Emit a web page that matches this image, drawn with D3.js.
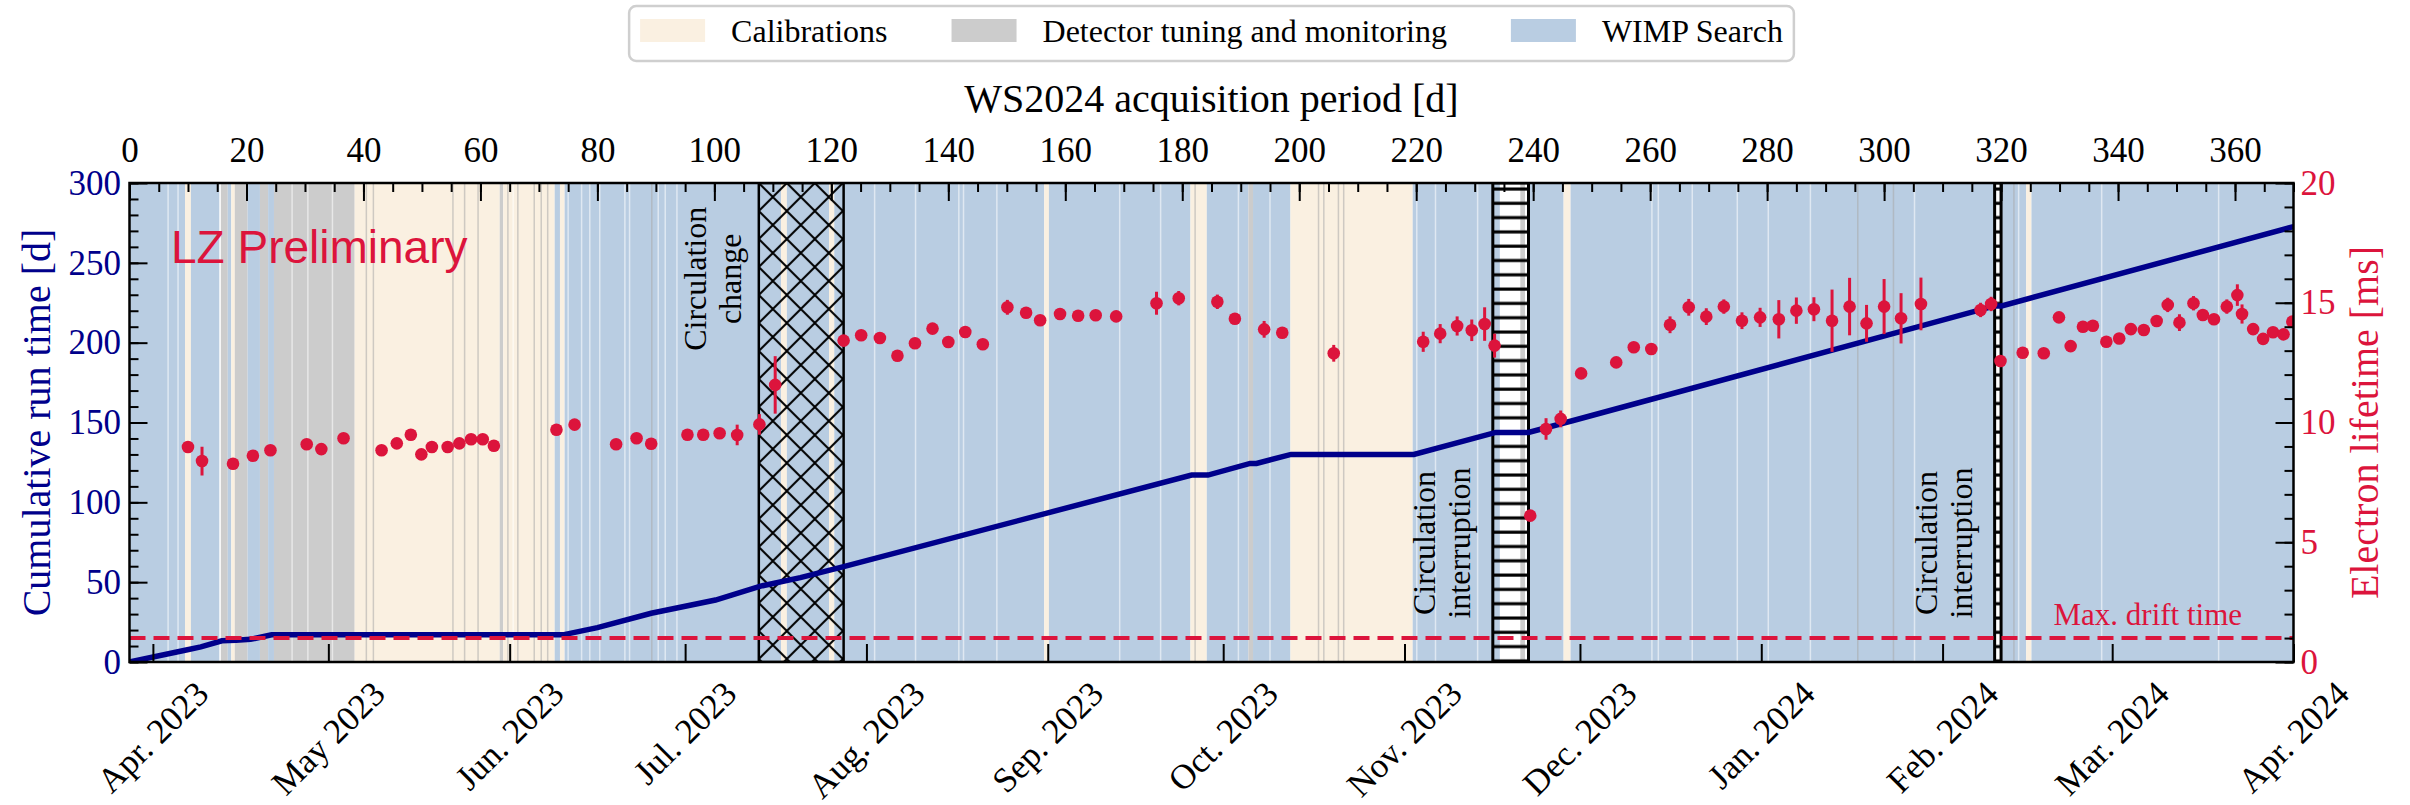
<!DOCTYPE html>
<html>
<head>
<meta charset="utf-8">
<script src="https://cdn.jsdelivr.net/npm/d3@7"></script>
<style>
	body { margin: 0; background: #fff; }
	svg { display: block; }
	text { font-family: "Liberation Serif", "Times New Roman", serif; }
</style>
</head>
<body>
<svg id="chart"></svg>
<script>

// Some global settings
var CONF = {
	width: 2410,
	height: 805,
	left: 129.5,
	right: 2293.5,
	top: 183,
	bottom: 662,
	tickFont: 35,
	monthFont: 35,
	labelFont: 40,
	navy: '#00008b',
	red: '#dc143c'
};

// acquisition period (days) and the calendar date of day 0
var periodDays = [0, 370];
var periodDates = [Date.UTC(2023, 2, 28), Date.UTC(2024, 3, 1)];

// tick labels
var topTicks = [0, 20, 40, 60, 80, 100, 120, 140, 160, 180, 200, 220, 240, 260, 280, 300, 320, 340, 360];
var leftTicks = [0, 50, 100, 150, 200, 250, 300];
var rightTicks = [0, 5, 10, 15, 20];
var monthDates = [
	Date.UTC(2023, 3, 1), Date.UTC(2023, 4, 1), Date.UTC(2023, 5, 1), Date.UTC(2023, 6, 1),
	Date.UTC(2023, 7, 1), Date.UTC(2023, 8, 1), Date.UTC(2023, 9, 1), Date.UTC(2023, 10, 1),
	Date.UTC(2023, 11, 1), Date.UTC(2024, 0, 1), Date.UTC(2024, 1, 1), Date.UTC(2024, 2, 1),
	Date.UTC(2024, 3, 1)
];
var monthLabels = ['Apr. 2023', 'May 2023', 'Jun. 2023', 'Jul. 2023', 'Aug. 2023', 'Sep. 2023',
	'Oct. 2023', 'Nov. 2023', 'Dec. 2023', 'Jan. 2024', 'Feb. 2024', 'Mar. 2024', 'Apr. 2024'];

// run condition bands: W = WIMP search, C = calibrations, D = detector tuning
var bandStart = [0, 9.5, 10.5, 15.6, 16.8, 17.4, 18.0, 20.2, 22.3, 23.7, 24.7, 38.5, 63.3, 63.9,
	72.7, 73.6, 74.4, 111.4, 112.4, 119.6, 120.5, 156.4, 157.2, 181.4, 184.2, 191.3, 192.1,
	198.5, 219.4, 237.8, 239.2, 245.2, 246.4, 320.0, 324.3, 325.2];
var bandEnd = [9.5, 10.5, 15.4, 16.8, 17.4, 18.0, 20.2, 22.3, 23.7, 24.7, 38.5, 63.3, 63.9, 72.7,
	73.6, 74.4, 111.4, 112.4, 119.6, 120.5, 156.4, 157.2, 181.4, 184.2, 191.3, 192.1, 198.5,
	219.4, 234.3, 238.6, 245.2, 246.4, 318.9, 324.3, 325.2, 370];
var bandType = ['W', 'C', 'W', 'D', 'W', 'C', 'D', 'W', 'D', 'W', 'D', 'C', 'D', 'C',
	'W', 'C', 'W', 'C', 'W', 'C', 'W', 'C', 'W', 'C', 'W', 'D', 'W',
	'C', 'W', 'D', 'W', 'C', 'W', 'W', 'C', 'W'];

// thin boundaries between consecutive runs (w = light, g = grey)
var sepDays = [6.6, 8.3, 15.45, 27.8, 30.5, 34.7, 40.5, 41.7, 55.3, 57.3, 59.6, 64.7, 65.6, 66.4,
	69.2, 70.4, 71.5, 75.0, 77.3, 78.7, 80.4, 84.7, 85.5, 89.3, 90.4, 91.6, 93.6, 127.4, 134.4,
	141.8, 142.6, 148.3, 169.3, 176.3, 182.2, 189.6, 195.0, 203.3, 204.2, 206.7, 207.6, 220.1,
	223.3, 230.5, 260.3, 261.4, 267.2, 274.9, 280.2, 287.4, 295.5, 301.6, 305.2, 322.2, 323.0,
	337.2, 357.2];
var sepType = ['w', 'w', 'w', 'w', 'w', 'w', 'g', 'g', 'g', 'g', 'g', 'g', 'w', 'g',
	'g', 'g', 'g', 'w', 'w', 'w', 'w', 'w', 'w', 'g', 'w', 'w', 'w', 'w', 'w',
	'w', 'w', 'w', 'w', 'w', 'g', 'w', 'w', 'g', 'g', 'g', 'g', 'w',
	'w', 'w', 'w', 'w', 'w', 'w', 'w', 'w', 'g', 'g', 'w', 'g', 'w',
	'w', 'w'];

// circulation change / interruptions [start, end] in days
var circChange = [107.6, 122.1];
var interruptions = [[233.1, 239.2], [318.9, 320.0]];

// cumulative run time [d]
var runDays = [0, 9.7, 12.2, 15.8, 18.2, 20.7, 24.3, 74.1, 80.0, 89.2, 100.2, 107.9, 114.7, 122.1,
	156.7, 181.6, 184.4, 191.6, 192.7, 198.6, 219.6, 233.6, 239.2, 246.7, 318.9, 320.1, 370];
var runTime = [0, 7.5, 9.5, 13.3, 13.6, 14.2, 17.0, 17.0, 21.5, 30.5, 38.8, 47.5, 52.8, 59.7,
	93.1, 117.1, 117.1, 124.4, 124.4, 130.0, 130.0, 143.8, 143.8, 151.1, 223.0, 223.0, 272.7];

// electron lifetime [ms]
var lifeDays = [10.0, 12.4, 17.7, 21.1, 24.1, 30.3, 32.8, 36.6, 43.1, 45.7, 48.1, 49.9, 51.7, 54.4,
	56.4, 58.4, 60.4, 62.3, 73.0, 76.1, 83.2, 86.7, 89.2, 95.4, 98.1, 100.9, 103.9, 107.7, 110.4,
	122.1, 125.1, 128.3, 131.3, 134.3, 137.3, 140.0, 142.9, 145.9, 150.1, 153.3, 155.7, 159.1,
	162.2, 165.2, 168.7, 175.6, 179.4, 186.0, 189.0, 194.0, 197.1, 205.9, 221.2, 224.1, 227.0,
	229.5, 231.7, 233.4, 239.5, 242.2, 244.7, 248.2, 254.2, 257.2, 260.2, 263.4, 266.6, 269.6,
	272.6, 275.7, 278.8, 282.0, 285.0, 288.0, 291.1, 294.1, 297.0, 300.0, 302.9, 306.3, 316.5,
	318.3, 319.9, 323.7, 327.3, 329.9, 331.9, 334.0, 335.7, 338.0, 340.2, 342.2, 344.4, 346.6,
	348.5, 350.5, 352.9, 354.5, 356.4, 358.6, 360.4, 361.2, 363.1, 364.8, 366.5, 368.3, 369.8];
var lifeVals = [8.98, 8.39, 8.28, 8.61, 8.84, 9.09, 8.89, 9.34, 8.84, 9.13, 9.49, 8.67, 8.98, 8.98,
	9.13, 9.30, 9.30, 9.03, 9.70, 9.91, 9.09, 9.34, 9.11, 9.49, 9.49, 9.55, 9.48, 9.92, 11.57,
	13.42, 13.64, 13.53, 12.79, 13.31, 13.92, 13.36, 13.78, 13.27, 14.81, 14.58, 14.27, 14.53,
	14.46, 14.48, 14.43, 14.98, 15.19, 15.04, 14.33, 13.89, 13.75, 12.89, 13.37, 13.71, 14.03,
	13.85, 14.11, 13.21, 6.11, 9.73, 10.15, 12.05, 12.51, 13.14, 13.07, 14.08, 14.81, 14.42,
	14.84, 14.25, 14.39, 14.31, 14.67, 14.73, 14.25, 14.84, 14.14, 14.84, 14.35, 14.95, 14.70,
	14.95, 12.57, 12.91, 12.89, 14.39, 13.19, 14.00, 14.04, 13.37, 13.51, 13.90, 13.86, 14.24,
	14.91, 14.17, 14.98, 14.49, 14.31, 14.84, 15.32, 14.53, 13.90, 13.49, 13.77, 13.68, 14.21];
var lifeErr = [0.15, 0.6, 0.15, 0.15, 0.15, 0.15, 0.15, 0.15, 0.15, 0.15, 0.15, 0.15, 0.15, 0.15,
	0.15, 0.15, 0.15, 0.15, 0.15, 0.15, 0.15, 0.15, 0.15, 0.15, 0.15, 0.15, 0.43, 0.43, 1.2,
	0.2, 0.2, 0.2, 0.2, 0.2, 0.2, 0.2, 0.2, 0.2, 0.31, 0.2, 0.2, 0.2,
	0.2, 0.2, 0.2, 0.48, 0.3, 0.3, 0.2, 0.35, 0.2, 0.35, 0.42, 0.4, 0.4,
	0.45, 0.7, 0.5, 0.15, 0.45, 0.35, 0.15, 0.15, 0.15, 0.15, 0.35, 0.35, 0.35,
	0.3, 0.35, 0.4, 0.8, 0.55, 0.5, 1.3, 1.2, 0.77, 1.15, 1.05, 1.1, 0.3,
	0.3, 0.15, 0.15, 0.15, 0.15, 0.15, 0.15, 0.15, 0.15, 0.15, 0.15, 0.15, 0.15,
	0.3, 0.35, 0.3, 0.15, 0.15, 0.3, 0.45, 0.4, 0.15, 0.15, 0.15, 0.15, 0.15];

var maxDriftTime = 1.0;

var legendNames = ['Calibrations', 'Detector tuning and monitoring', 'WIMP Search'];
var legendTypes = ['C', 'D', 'W'];
var bandColors = {W: '#b9cde2', C: '#faf0e1', D: '#cccccc'};
var sepColors = {w: 'rgba(255,255,255,0.55)', g: 'rgba(170,170,170,0.55)'};


function drawLifetimeChart() {
	var svg = d3.select('#chart')
		.attr('width', CONF.width)
		.attr('height', CONF.height);

	var x = d3.scaleLinear().domain(periodDays).range([CONF.left, CONF.right]);
	var xDate = d3.scaleUtc().domain(periodDates.map(function(d) { return new Date(d); }))
		.range([CONF.left, CONF.right]);
	var yL = d3.scaleLinear().domain([0, 300]).range([CONF.bottom, CONF.top]);
	var yR = d3.scaleLinear().domain([0, 20]).range([CONF.bottom, CONF.top]);
	var plotH = CONF.bottom - CONF.top;

	var defs = svg.append('defs');
	defs.append('clipPath').attr('id', 'plot-clip')
		.append('rect')
			.attr('x', CONF.left).attr('y', CONF.top)
			.attr('width', CONF.right - CONF.left).attr('height', plotH);

	// cross hatch for the circulation change
	var px = defs.append('pattern').attr('id', 'hatch-x')
		.attr('patternUnits', 'userSpaceOnUse')
		.attr('x', x(circChange[0])).attr('y', CONF.top)
		.attr('width', 28).attr('height', 28);
	px.append('path').attr('d', 'M0,0L28,28M0,28L28,0M-2,2L2,-2M26,30L30,26M-2,26L2,30M26,-2L30,2')
		.style('stroke', 'black').style('stroke-width', 2).style('fill', 'none');

	// horizontal hatch for the interruptions
	var ph = defs.append('pattern').attr('id', 'hatch-h')
		.attr('patternUnits', 'userSpaceOnUse')
		.attr('x', 0).attr('y', CONF.top + 4)
		.attr('width', 40).attr('height', 14.3);
	ph.append('line').attr('x1', 0).attr('x2', 40).attr('y1', 2).attr('y2', 2)
		.style('stroke', 'black').style('stroke-width', 3);

	var plot = svg.append('g').attr('clip-path', 'url(#plot-clip)');

	// background bands
	plot.selectAll('rect.band')
		.data(bandStart)
		.enter()
		.append('rect')
			.attr('class', 'band')
			.attr('x', function(d) { return x(d); })
			.attr('y', CONF.top)
			.attr('width', function(d, i) { return x(bandEnd[i]) - x(d); })
			.attr('height', plotH)
			.style('fill', function(d, i) { return bandColors[bandType[i]]; });

	plot.selectAll('line.sep')
		.data(sepDays)
		.enter()
		.append('line')
			.attr('class', 'sep')
			.attr('x1', function(d) { return x(d); })
			.attr('x2', function(d) { return x(d); })
			.attr('y1', CONF.top).attr('y2', CONF.bottom)
			.style('stroke', function(d, i) { return sepColors[sepType[i]]; })
			.style('stroke-width', 1.5);

	// hatched regions
	plot.append('rect')
		.attr('x', x(circChange[0])).attr('y', CONF.top)
		.attr('width', x(circChange[1]) - x(circChange[0])).attr('height', plotH)
		.style('fill', 'url(#hatch-x)')
		.style('stroke', 'black').style('stroke-width', 2.5);

	plot.selectAll('rect.interruption')
		.data(interruptions)
		.enter()
		.append('rect')
			.attr('class', 'interruption')
			.attr('x', function(d) { return x(d[0]); }).attr('y', CONF.top)
			.attr('width', function(d) { return x(d[1]) - x(d[0]); }).attr('height', plotH)
			.style('fill', 'url(#hatch-h)')
			.style('stroke', 'black').style('stroke-width', 3);

	// labels inside the plot
	var annotations = [
		{day: 98.6, run: 240, lines: ['Circulation', 'change']},
		{day: 223.2, run: 74.5, lines: ['Circulation', 'interruption']},
		{day: 309.0, run: 74.5, lines: ['Circulation', 'interruption']}
	];
	annotations.forEach(function(a) {
		var t = plot.append('g')
			.attr('transform', 'translate(' + x(a.day) + ',' + yL(a.run) + ') rotate(-90)')
			.append('text')
				.attr('text-anchor', 'middle')
				.style('font-size', '32px')
				.style('fill', 'black');
		a.lines.forEach(function(s, i) {
			t.append('tspan').attr('x', 0).attr('y', i * 35).text(s);
		});
	});

	plot.append('text')
		.attr('x', x(7.1)).attr('y', yL(250))
		.style('font-family', '"Liberation Sans", Arial, sans-serif')
		.style('font-size', '46px')
		.style('fill', CONF.red)
		.text('LZ Preliminary');

	// cumulative run time
	var runLine = d3.line()
		.x(function(d) { return x(d); })
		.y(function(d, i) { return yL(runTime[i]); });
	plot.append('path')
		.attr('d', runLine(runDays))
		.style('fill', 'none')
		.style('stroke', CONF.navy)
		.style('stroke-width', 5.5);

	// max. drift time
	plot.append('line')
		.attr('x1', CONF.left).attr('x2', CONF.right)
		.attr('y1', yR(maxDriftTime)).attr('y2', yR(maxDriftTime))
		.style('stroke', CONF.red)
		.style('stroke-width', 4)
		.style('stroke-dasharray', '16,8');

	plot.append('text')
		.attr('x', x(361.2)).attr('y', yR(1.55))
		.attr('text-anchor', 'end')
		.style('font-size', '31px')
		.style('fill', CONF.red)
		.text('Max. drift time');

	// electron lifetime with error bars
	plot.selectAll('line.err')
		.data(lifeDays)
		.enter()
		.append('line')
			.attr('class', 'err')
			.attr('x1', function(d) { return x(d); })
			.attr('x2', function(d) { return x(d); })
			.attr('y1', function(d, i) { return yR(lifeVals[i] - lifeErr[i]); })
			.attr('y2', function(d, i) { return yR(lifeVals[i] + lifeErr[i]); })
			.style('stroke', CONF.red)
			.style('stroke-width', 3);

	plot.selectAll('circle.pt')
		.data(lifeDays)
		.enter()
		.append('circle')
			.attr('class', 'pt')
			.attr('cx', function(d) { return x(d); })
			.attr('cy', function(d, i) { return yR(lifeVals[i]); })
			.attr('r', 6.3)
			.style('fill', CONF.red);

	// frame
	svg.append('rect')
		.attr('x', CONF.left).attr('y', CONF.top)
		.attr('width', CONF.right - CONF.left).attr('height', plotH)
		.style('fill', 'none')
		.style('stroke', 'black')
		.style('stroke-width', 2.5);

	// axes, ticks pointing inwards
	function styleAxis(g, color) {
		g.select('.domain').remove();
		g.selectAll('line').style('stroke', 'black').style('stroke-width', 2);
		g.selectAll('text')
			.style('font-family', '"Liberation Serif", "Times New Roman", serif')
			.style('font-size', CONF.tickFont + 'px')
			.style('fill', color);
	}

	svg.append('g').attr('transform', 'translate(0,' + CONF.top + ')')
		.call(d3.axisTop(x).tickValues(d3.range(0, 371, 5)).tickSize(-9).tickFormat(''))
		.call(styleAxis, 'black');
	svg.append('g').attr('transform', 'translate(0,' + CONF.top + ')')
		.call(d3.axisTop(x).tickValues(topTicks).tickSize(-18).tickPadding(21).tickFormat(d3.format('d')))
		.call(styleAxis, 'black');

	svg.append('g').attr('transform', 'translate(' + CONF.left + ',0)')
		.call(d3.axisLeft(yL).tickValues(d3.range(0, 301, 10)).tickSize(-9).tickFormat(''))
		.call(styleAxis, CONF.navy);
	svg.append('g').attr('transform', 'translate(' + CONF.left + ',0)')
		.call(d3.axisLeft(yL).tickValues(leftTicks).tickSize(-18).tickPadding(8.5).tickFormat(d3.format('d')))
		.call(styleAxis, CONF.navy);

	svg.append('g').attr('transform', 'translate(' + CONF.right + ',0)')
		.call(d3.axisRight(yR).tickValues(d3.range(0, 21, 1)).tickSize(-9).tickFormat(''))
		.call(styleAxis, CONF.red);
	svg.append('g').attr('transform', 'translate(' + CONF.right + ',0)')
		.call(d3.axisRight(yR).tickValues(rightTicks).tickSize(-18).tickPadding(7).tickFormat(d3.format('d')))
		.call(styleAxis, CONF.red);

	svg.append('g').attr('transform', 'translate(0,' + CONF.bottom + ')')
		.call(d3.axisBottom(xDate)
			.tickValues(monthDates.map(function(d) { return new Date(d); }))
			.tickSize(-18).tickFormat(''))
		.call(styleAxis, 'black');

	// rotated month labels, bounding box centred under each tick
	var months = svg.append('g');
	monthDates.forEach(function(d, i) {
		var g = months.append('g');
		var t = g.append('text')
			.attr('text-anchor', 'middle')
			.attr('dy', '0.33em')
			.style('font-size', CONF.monthFont + 'px')
			.style('fill', 'black')
			.text(monthLabels[i]);
		var len = t.node().getComputedTextLength();
		var half = (len + 0.7 * CONF.monthFont) / (2 * Math.SQRT2);
		g.attr('transform', 'translate(' + xDate(new Date(d)) + ',' + (CONF.bottom + 17 + half) + ') rotate(-45)');
	});

	// axis titles
	svg.append('text')
		.attr('x', (CONF.left + CONF.right) / 2).attr('y', 112)
		.attr('text-anchor', 'middle')
		.style('font-size', CONF.labelFont + 'px')
		.text('WS2024 acquisition period [d]');

	svg.append('g')
		.attr('transform', 'translate(50,' + ((CONF.top + CONF.bottom) / 2) + ') rotate(-90)')
		.append('text')
			.attr('text-anchor', 'middle')
			.style('font-size', CONF.labelFont + 'px')
			.style('fill', CONF.navy)
			.text('Cumulative run time [d]');

	svg.append('g')
		.attr('transform', 'translate(2378,' + ((CONF.top + CONF.bottom) / 2) + ') rotate(-90)')
		.append('text')
			.attr('text-anchor', 'middle')
			.style('font-size', CONF.labelFont + 'px')
			.style('fill', CONF.red)
			.text('Electron lifetime [ms]');

	// legend
	var legend = svg.append('g');
	var box = legend.append('rect')
		.attr('y', 6).attr('height', 55)
		.attr('rx', 7).attr('ry', 7)
		.style('fill', 'white')
		.style('stroke', '#cfcfcf')
		.style('stroke-width', 2.5);
	var cursor = 0;
	var items = legend.append('g');
	legendNames.forEach(function(name, i) {
		items.append('rect')
			.attr('x', cursor).attr('y', 19)
			.attr('width', 65).attr('height', 23)
			.style('fill', bandColors[legendTypes[i]]);
		var t = items.append('text')
			.attr('x', cursor + 91).attr('y', 31)
			.attr('dy', '0.33em')
			.style('font-size', '32px')
			.text(name);
		cursor += 91 + t.node().getComputedTextLength() + 64;
	});
	var total = cursor - 64;
	var start = (CONF.left + CONF.right) / 2 - total / 2;
	items.attr('transform', 'translate(' + start + ',0)');
	box.attr('x', start - 11).attr('width', total + 22);
}

// draw it
drawLifetimeChart();

</script>
</body>
</html>
